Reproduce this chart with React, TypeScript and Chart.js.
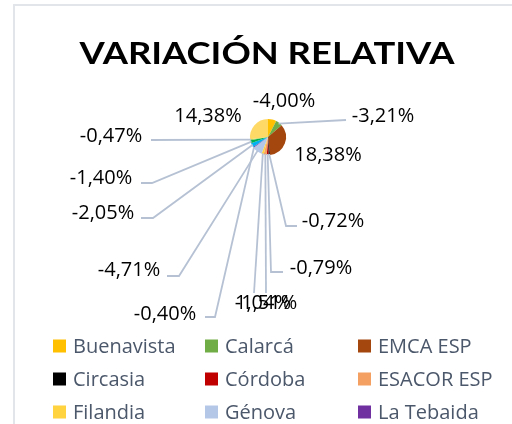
import React, { useEffect, useRef } from "react";
import { Chart, registerables } from "chart.js";

Chart.register(...registerables);

// ---- data ----
const TITLE = "VARIACIÓN RELATIVA";
const CATEGORIES = [
  "Buenavista", "Calarcá", "EMCA ESP", "Circasia", "Córdoba", "ESACOR ESP",
  "Filandia", "Génova", "La Tebaida", "Montenegro", "Pijao", "Quimbaya", "Salento",
];
const VALUES = [-4.0, -3.21, 18.38, -0.72, -0.79, -1.51, 1.04, -4.71, -0.4, -2.05, -1.4, -0.47, 14.38];
const COLORS = [
  "#FFC000", "#70AD47", "#A3470F", "#000000", "#C00000", "#F4A062",
  "#FFD23F", "#B4C7E7", "#7030A0", "#00B0F0", "#00B050", "#92D050", "#FFD966",
];
const LEGEND_COUNT = 9;

// ---- label layout (relative to pie centre): text centre + leader waypoints ----
const LABEL_LAYOUT: { tx: number; ty: number; path: number[][] }[] = [
  { tx: 16, ty: -37, path: [] },
  { tx: 115, ty: -22, path: [[78, -17]] },
  { tx: 60, ty: 17, path: [] },
  { tx: 65, ty: 83, path: [[18, 89], [29, 89]] },
  { tx: 53, ty: 130, path: [[3, 135], [15, 135]] },
  { tx: -2, ty: 165, path: [[-2, 156]] },
  { tx: -5, ty: 165, path: [[-14, 156]] },
  { tx: -139, ty: 132, path: [[-89, 139], [-101, 139]] },
  { tx: -103, ty: 176, path: [[-53, 180], [-63, 180]] },
  { tx: -165, ty: 75, path: [[-115, 81], [-127, 81]] },
  { tx: -167, ty: 40, path: [[-116, 46], [-127, 46]] },
  { tx: -157, ty: -2, path: [[-117, 3]] },
  { tx: -60, ty: -22, path: [] },
];

const FONT = "'Open Sans'";
const fmt = (v: number) => v.toFixed(2).replace(".", ",") + "%";

const overlayPlugin = {
  id: "overlay",
  afterDraw(chart: any) {
    const ctx: CanvasRenderingContext2D = chart.ctx;
    const meta = chart.getDatasetMeta(0);
    ctx.save();

    // Title
    const titleSize = 31;
    ctx.font = `bold ${titleSize}px Lato`;
    ctx.fillStyle = "#000000";
    ctx.textAlign = "center";
    ctx.textBaseline = "alphabetic";
    const tw = ctx.measureText(TITLE).width;
    const sx = 375 / tw;
    ctx.save();
    ctx.translate(267, 53 + titleSize * 0.36);
    ctx.scale(sx, 1);
    ctx.fillText(TITLE, 0, 0);
    ctx.restore();

    // Leader lines + data labels
    const labelSize = 20;
    ctx.font = `${labelSize}px ${FONT}`;
    meta.data.forEach((arc: any, i: number) => {
      const lay = LABEL_LAYOUT[i];
      if (!lay) return;
      const cx = arc.x, cy = arc.y;
      const mid = (arc.startAngle + arc.endAngle) / 2;
      const r = arc.outerRadius;
      if (lay.path.length) {
        ctx.beginPath();
        ctx.strokeStyle = "#B6C2D4";
        ctx.lineWidth = 1.8;
        ctx.moveTo(cx + Math.cos(mid) * r * 0.95, cy + Math.sin(mid) * r * 0.95);
        lay.path.forEach((p) => ctx.lineTo(cx + p[0], cy + p[1]));
        ctx.stroke();
      }
      ctx.fillStyle = "#000000";
      ctx.textAlign = "center";
      ctx.fillText(fmt(VALUES[i]), cx + lay.tx, cy + lay.ty + labelSize * 0.357);
    });

    // Legend (3-column grid, first items)
    const legendSize = 20;
    ctx.font = `${legendSize}px ${FONT}`;
    ctx.textAlign = "left";
    const colX = [53, 205, 358];
    const rowY = [346, 379, 412];
    for (let i = 0; i < LEGEND_COUNT; i++) {
      const x = colX[i % 3];
      const y = rowY[Math.floor(i / 3)];
      ctx.fillStyle = COLORS[i];
      ctx.fillRect(x, y - 6.5, 13, 13);
      ctx.fillStyle = "#4B576A";
      ctx.fillText(CATEGORIES[i], x + 20, y + legendSize * 0.357);
    }
    ctx.restore();
  },
};

export default function App() {
  const ref = useRef<HTMLCanvasElement | null>(null);
  useEffect(() => {
    if (!ref.current) return;
    const chart = new Chart(ref.current, {
      type: "pie",
      data: {
        labels: CATEGORIES,
        datasets: [
          {
            data: VALUES,
            backgroundColor: COLORS,
            borderWidth: 0,
            hoverOffset: 0,
            offset: 0,
          },
        ],
      },
      options: {
        responsive: false,
        animation: false,
        radius: 18,
        layout: { padding: { left: 218, right: 194, top: 87, bottom: 237 } },
        plugins: {
          legend: { display: false },
          title: { display: false },
          tooltip: { enabled: false },
        },
        events: [],
      } as any,
      plugins: [overlayPlugin],
    });
    return () => chart.destroy();
  }, []);

  return (
    <div style={{ position: "fixed", left: 0, top: 0, width: 512, height: 424, background: "#fff", overflow: "hidden" }}>
      <div
        style={{
          position: "absolute",
          left: 13,
          top: 4,
          width: 700,
          height: 700,
          borderLeft: "2px solid #E2E5EA",
          borderTop: "2px solid #E2E5EA",
        }}
      />
      <canvas ref={ref} width={512} height={424} style={{ position: "absolute", left: 0, top: 0, width: 512, height: 424 }} />
    </div>
  );
}
